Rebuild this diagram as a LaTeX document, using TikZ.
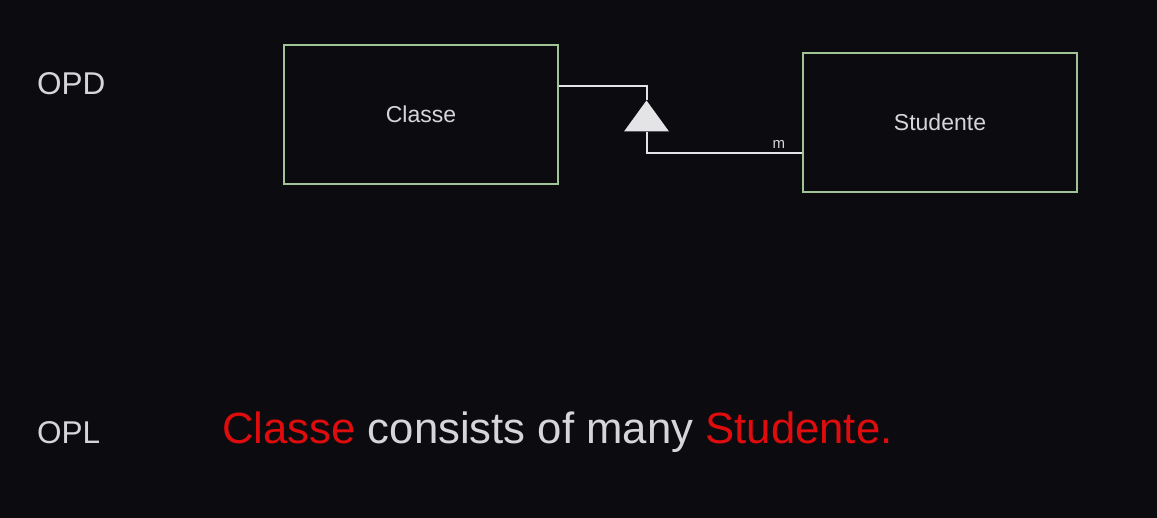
\documentclass[tikz,border=0pt]{standalone}
\usepackage{fontspec}
\setmainfont{Liberation Sans}
\usepackage{xcolor}
\usepackage{tikz}
\usetikzlibrary{shapes,positioning,calc}
\definecolor{bgdark}{RGB}{12,11,15}
\definecolor{boxgreen}{RGB}{160,196,150}
\definecolor{linegray}{RGB}{228,228,230}
\definecolor{txtgray}{RGB}{214,214,216}
\definecolor{oplred}{RGB}{222,12,12}

\begin{document}
\begin{tikzpicture}[x=1pt,y=-1pt,
    thing/.style={draw=boxgreen, line width=2pt, fill=bgdark, minimum width=274pt, minimum height=139pt, inner sep=0pt, text=txtgray, font=\fontsize{23}{26}\selectfont},
    link/.style={draw=linegray, line width=2pt},
    aggr/.style={isosceles triangle, shape border rotate=90, isosceles triangle stretches, fill=linegray, minimum width=45pt, minimum height=31pt, inner sep=0pt},
    tag/.style={text=txtgray, font=\fontsize{31.5}{35}\selectfont, anchor=base west, inner sep=0pt}]
    % Background
    \useasboundingbox[fill=bgdark] (0,0) rectangle (1157,518);
    
    % Labels
    \node[tag] (opd) at (37,95) {OPD};
    \node[tag] (opl) at (37,444) {OPL};
    
    % Things
    \node[thing] (classe) at (421,114.5) {Classe};
    \node[thing] (studente) at (940,122.5) {Studente};
    
    % Aggregation
    \node[aggr] (agg) at (646.5,120) {};
    \draw[link] ([yshift=28.5pt]classe.east) -| (agg.apex);
    \draw[link] (agg.lower side) |- ([yshift=-30.5pt]studente.west)
        node[pos=0.926, above, text=txtgray, font=\fontsize{15}{17}\selectfont, inner sep=3pt] {m};
    
    % Sentence
    \node[text=txtgray, font=\fontsize{43.7}{50}\selectfont, anchor=base west, inner sep=0pt] (sentence) at (222,444)
        {\textcolor{oplred}{Classe} consists of many \textcolor{oplred}{Studente.}};
    
\end{tikzpicture}
\end{document}
